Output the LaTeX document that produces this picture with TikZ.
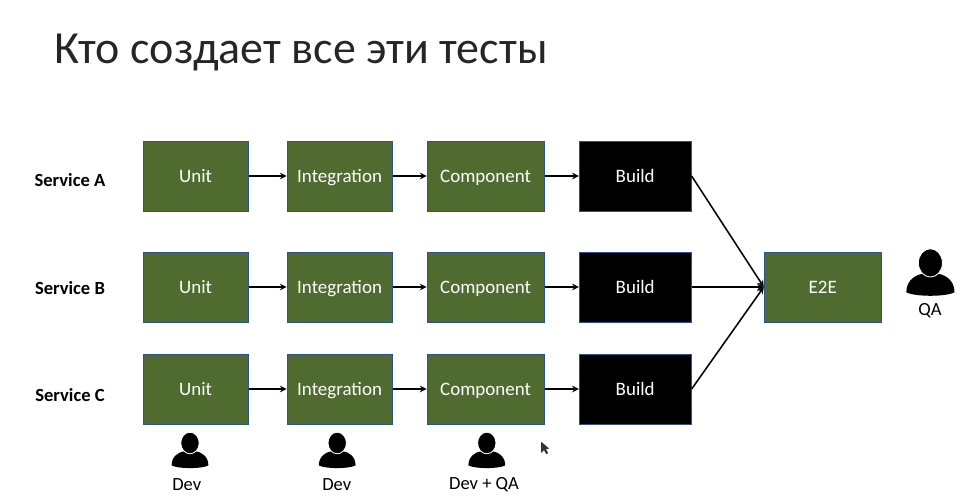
\documentclass[tikz,border=0pt]{standalone}
\usepackage{fontspec}
\setmainfont{Carlito}
\definecolor{boxgreen}{HTML}{4F6B30}
\definecolor{boxblue}{HTML}{2F528F}

\begin{document}
\begin{tikzpicture}[>=stealth, line width=1.1pt,
  testbox/.style={rectangle, draw=boxblue, semithick, fill=boxgreen, text=white, minimum height=1.75cm, text height=11pt, text depth=2.4pt, font=\fontsize{13.5}{16}\selectfont},
  unitbox/.style={testbox, minimum width=2.63cm},
  intbox/.style={testbox, minimum width=2.63cm},
  compbox/.style={testbox, minimum width=2.93cm},
  buildbox/.style={testbox, minimum width=2.8cm, fill=black},
  svclabel/.style={font=\fontsize{13.2}{15}\selectfont\bfseries},
  rolelabel/.style={font=\fontsize{13.2}{15}\selectfont},
  person/.pic={
    \fill[black] (-0.46,-0.31) .. controls (-0.46,-0.08) and (-0.28,0.02) .. (-0.16,0.04)
      -- (0.16,0.04)
      .. controls (0.28,0.02) and (0.46,-0.08) .. (0.46,-0.31)
      .. controls (0.3,-0.4) and (-0.3,-0.4) .. (-0.46,-0.31) -- cycle;
    \filldraw[fill=black, draw=white, line width=0.6pt] (0,0.25) ellipse (0.23 and 0.27);
  }]
  \useasboundingbox (0,0) rectangle (24.05,12.525);

  % title
  \node[anchor=west, text=black!85, font=\fontsize{32.7}{40}\selectfont] (title) at (1.22,11.2) {Кто создает все эти тесты};

  % service A
  \node[unitbox]  (A1) at (4.89,8.125) {Unit};
  \node[intbox]   (A2) [right of=A1, node distance=3.6cm]  {Integration};
  \node[compbox]  (A3) [right of=A2, node distance=3.65cm] {Component};
  \node[buildbox] (A4) [right of=A3, node distance=3.74cm] {Build};

  % service B
  \node[unitbox]  (B1) [below of=A1, node distance=2.775cm] {Unit};
  \node[intbox]   (B2) [right of=B1, node distance=3.6cm]  {Integration};
  \node[compbox]  (B3) [right of=B2, node distance=3.65cm] {Component};
  \node[buildbox] (B4) [right of=B3, node distance=3.74cm] {Build};

  % service C
  \node[unitbox]  (C1) [below of=B1, node distance=2.55cm] {Unit};
  \node[intbox]   (C2) [right of=C1, node distance=3.6cm]  {Integration};
  \node[compbox]  (C3) [right of=C2, node distance=3.65cm] {Component};
  \node[buildbox] (C4) [right of=C3, node distance=3.74cm] {Build};

  \node[testbox, minimum width=2.93cm] (E2E) [right of=B4, node distance=4.69cm] {E2E};

  \node[svclabel] (SA) at (1.75,8.03) {Service A};
  \node[svclabel] (SB) at (1.75,5.33) {Service B};
  \node[svclabel] (SC) at (1.75,2.65) {Service C};

  \path[->] (A1) edge (A2) (A2) edge (A3) (A3) edge (A4)
            (B1) edge (B2) (B2) edge (B3) (B3) edge (B4)
            (C1) edge (C2) (C2) edge (C3) (C3) edge (C4)
            (A4.east) edge (E2E.west)
            (B4.east) edge (E2E.west)
            (C4.east) edge (E2E.west);

  % people
  \pic at (4.75,1.2) {person};
  \pic at (8.43,1.2) {person};
  \pic at (12.17,1.2) {person};
  \pic[scale=1.31] at (23.26,5.625) {person};

  \node[rolelabel] (D1) at (4.67,0.4)  {Dev};
  \node[rolelabel] (D2) at (8.42,0.4)  {Dev};
  \node[rolelabel] (D3) at (12.1,0.4)  {Dev + QA};
  \node[rolelabel] (QA) at (23.25,4.75) {QA};

  % mouse pointer
  \fill[black!80] (13.53,1.48) -- (13.53,1.2) -- (13.6,1.27) -- (13.66,1.17) -- (13.7,1.2) -- (13.65,1.3) -- (13.73,1.31) -- cycle;
\end{tikzpicture}
\end{document}
